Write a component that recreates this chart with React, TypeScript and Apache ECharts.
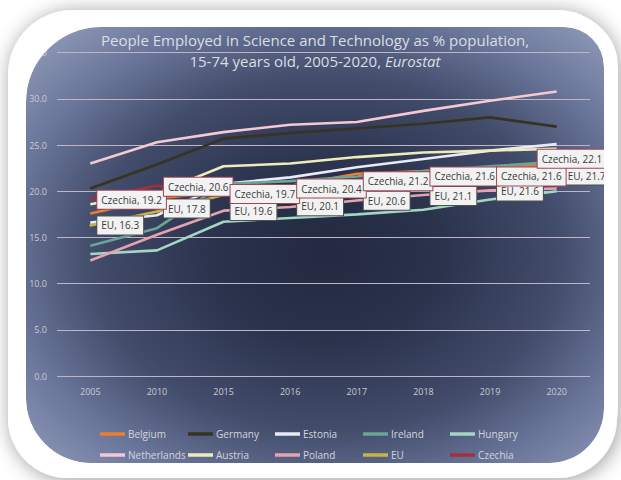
import React, { useEffect, useRef } from 'react';
import * as echarts from 'echarts';

const categories = ['2005', '2010', '2015', '2016', '2017', '2018', '2019', '2020'];
const belgium = [17.6, 19.2, 20.0, 20.6, 21.9, 22.2, 22.6, 22.9];
const germany = [20.3, 22.9, 25.7, 26.3, 26.8, 27.3, 28.0, 27.0];
const estonia = [16.6, 17.4, 20.8, 21.5, 22.6, 23.5, 24.4, 25.1];
const ireland = [14.1, 16.0, 20.8, 21.1, 21.6, 22.2, 22.7, 23.2];
const hungary = [13.2, 13.6, 16.7, 17.1, 17.5, 18.0, 19.1, 20.0];
const netherlands = [23.0, 25.3, 26.4, 27.2, 27.5, 28.7, 29.8, 30.8];
const austria = [18.6, 19.8, 22.7, 23.0, 23.7, 24.2, 24.4, 24.6];
const poland = [12.5, 15.3, 17.9, 18.3, 19.0, 19.6, 20.1, 20.3];
const eu = [16.3, 17.8, 19.6, 20.1, 20.6, 21.1, 21.6, 21.7];
const czechia = [19.2, 20.6, 19.7, 20.4, 21.2, 21.6, 21.6, 22.1];

const yMin = 0;
const yMax = 35;
const yStep = 5;

const FONT = 'Open Sans';

// label nudges (style, not data)
const euLabelOffsets = [[0, 0], [0, -3], [0, 16], [0, 16], [0, 15], [0, 15], [0, 15], [0, 0]];
const czLabelOffsets = [[0, 1], [0, 1], [0, 0], [0, 1], [0, 1], [0, 0], [0, 0], [-26, -13]];

const seriesDefs = [
  { name: 'Belgium', data: belgium, color: '#ed7d31' },
  { name: 'Germany', data: germany, color: '#363320' },
  { name: 'Estonia', data: estonia, color: '#e8eaf6' },
  { name: 'Ireland', data: ireland, color: '#6aa596' },
  { name: 'Hungary', data: hungary, color: '#a3d6c5' },
  { name: 'Netherlands', data: netherlands, color: '#f5c9d3' },
  { name: 'Austria', data: austria, color: '#efecbb' },
  { name: 'Poland', data: poland, color: '#e6a3ad' },
  { name: 'EU', data: eu, color: '#c8b446' },
  { name: 'Czechia', data: czechia, color: '#a3303f' },
];

const legendCols = [100, 188, 275, 363, 450];
const legendRows = [436, 457];

export default function App() {
  const ref = useRef<HTMLDivElement>(null);
  useEffect(() => {
    if (!ref.current) return;
    const chart = echarts.init(ref.current, null, { renderer: 'svg' });

    const series = seriesDefs.map((s) => {
      const labeled = s.name === 'EU' || s.name === 'Czechia';
      const offsets = s.name === 'EU' ? euLabelOffsets : czLabelOffsets;
      return {
        type: 'line',
        name: s.name,
        color: s.color,
        data: labeled
          ? s.data.map((v, i) => ({ value: v, label: { offset: offsets[i] } }))
          : s.data,
        symbol: labeled ? 'circle' : 'none',
        symbolSize: 2,
        showSymbol: labeled,
        lineStyle: { width: 2.6, color: s.color },
        itemStyle: { color: s.color },
        emphasis: { disabled: true },
        label: labeled
          ? {
              show: true,
              position: 'right',
              distance: 6,
              formatter: (p: any) => `${p.seriesName}, ${Number(p.value).toFixed(1)}`,
              backgroundColor: '#f2f2f2',
              borderColor: s.name === 'EU' ? '#505050' : '#9e4656',
              borderWidth: 1,
              padding: [3, 4, 3, 4],
              color: '#3a3a3a',
              fontSize: 10,
              lineHeight: 12,
              fontFamily: FONT,
            }
          : { show: false },
      };
    });

    const legends = seriesDefs.map((s, i) => ({
      data: [s.name],
      left: legendCols[i % 5],
      top: legendRows[Math.floor(i / 5)] - 7,
      padding: 0,
      icon: 'rect',
      itemWidth: 25,
      itemHeight: 3.5,
      itemGap: 0,
      selectedMode: false,
      textStyle: { color: '#d4d5dc', fontSize: 10, fontFamily: FONT, padding: [0, 0, 0, -2] },
    }));

    chart.setOption({
      animation: false,
      backgroundColor: 'transparent',
      title: {
        text: 'People Employed in Science and Technology as % population,\n15-74 years old, 2005-2020, {i|Eurostat}',
        left: 315,
        top: 29,
        padding: 0,
        textAlign: 'center',
        textStyle: {
          color: '#dcdde3',
          fontSize: 15,
          fontWeight: 'normal',
          fontFamily: FONT,
          lineHeight: 21,
          rich: {
            i: { fontStyle: 'italic', color: '#dcdde3', fontSize: 15, fontFamily: FONT, lineHeight: 21 },
          },
        },
      },
      legend: legends,
      grid: { left: 57, right: 31, top: 52.7, bottom: 104, containLabel: false },
      xAxis: {
        type: 'category',
        data: categories,
        boundaryGap: true,
        axisLine: { show: false },
        axisTick: { show: false },
        axisLabel: { color: '#c9cad4', fontSize: 9, fontFamily: FONT, margin: 11 },
      },
      yAxis: {
        type: 'value',
        min: yMin,
        max: yMax,
        interval: yStep,
        axisLine: { show: false },
        axisTick: { show: false },
        axisLabel: {
          color: '#c9cad4',
          fontSize: 9,
          fontFamily: FONT,
          margin: 10,
          formatter: (v: number) => v.toFixed(1),
        },
        splitLine: { lineStyle: { color: '#bfb5c6', width: 1.2 } },
      },
      graphic: [
        {
          type: 'rect',
          z: 0,
          shape: { x: 8, y: 10, width: 609, height: 468, r: [65, 60, 60, 60] },
          style: {
            fill: '#ffffff',
            shadowBlur: 20,
            shadowColor: 'rgba(0,0,0,0.4)',
            shadowOffsetX: 2,
            shadowOffsetY: 2,
          },
          silent: true,
        },
        {
          type: 'rect',
          z: 0,
          shape: { x: 26, y: 27, width: 578, height: 436, r: [75, 40, 55, 65] },
          style: {
            fill: {
              type: 'radial',
              x: 0.52,
              y: 0.52,
              r: 0.68,
              colorStops: [
                { offset: 0, color: '#222940' },
                { offset: 0.3, color: '#2b334d' },
                { offset: 0.6, color: '#434d6c' },
                { offset: 0.82, color: '#6a769a' },
                { offset: 1, color: '#8a95b4' },
              ],
            },
          },
          silent: true,
        },
        {
          type: 'rect',
          z: 50,
          shape: { x: 19, y: 20, width: 592, height: 450, r: [82, 47, 62, 72] },
          style: { fill: 'none', stroke: '#ffffff', lineWidth: 14 },
          silent: true,
        },
      ],
      series,
    });
    return () => chart.dispose();
  }, []);
  return (
    <div
      ref={ref}
      style={{ position: 'fixed', left: 0, top: 0, width: 621, height: 480, background: '#ffffff' }}
    />
  );
}
